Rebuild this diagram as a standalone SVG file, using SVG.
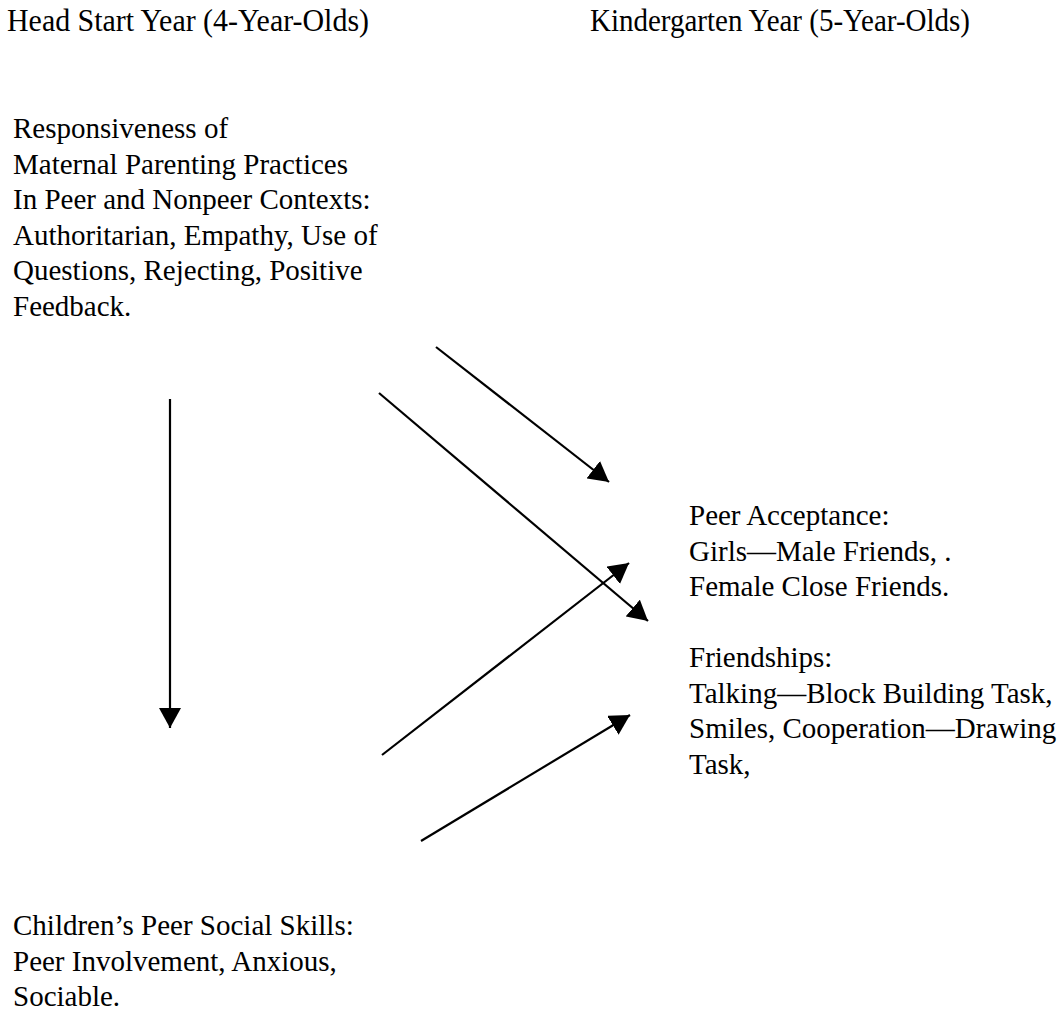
<svg xmlns="http://www.w3.org/2000/svg" width="1060" height="1028" viewBox="0 0 1060 1028">
  <style>
    text { font-family: "Liberation Serif", "Times New Roman", serif; fill: #000; }
    .hdr { font-size: 32px; }
    .body { font-size: 29px; }
    .conn line { stroke: #000; stroke-width: 2.2; fill: none; marker-end: url(#head); }
  </style>
  <defs>
    <marker id="head" viewBox="0 0 20 22" refX="20" refY="11" markerWidth="20" markerHeight="22" markerUnits="userSpaceOnUse" orient="auto">
      <path d="M0,0 L20,11 L0,22 z" fill="#000"/>
    </marker>
  </defs>
  <rect width="1060" height="1028" fill="#fff"/>

  <!-- column headings -->
  <g id="headings">
    <text class="hdr" x="7" y="31" textLength="362" lengthAdjust="spacingAndGlyphs">Head Start Year (4-Year-Olds)</text>
    <text class="hdr" x="590" y="31" textLength="380" lengthAdjust="spacingAndGlyphs">Kindergarten Year (5-Year-Olds)</text>
  </g>

  <!-- maternal parenting practices -->
  <g id="parenting">
    <text class="body" x="13" y="138">Responsiveness of</text>
    <text class="body" x="13" y="173.5">Maternal Parenting Practices</text>
    <text class="body" x="13" y="209">In Peer and Nonpeer Contexts:</text>
    <text class="body" x="13" y="244.5">Authoritarian, Empathy, Use of</text>
    <text class="body" x="13" y="280">Questions, Rejecting, Positive</text>
    <text class="body" x="13" y="315.5">Feedback.</text>
  </g>

  <!-- kindergarten outcomes -->
  <g id="outcomes">
    <text class="body" x="689" y="525">Peer Acceptance:</text>
    <text class="body" x="689" y="560.5">Girls—Male Friends, .</text>
    <text class="body" x="689" y="596">Female Close Friends.</text>
    <text class="body" x="689" y="667">Friendships:</text>
    <text class="body" x="689" y="702.5">Talking—Block Building Task,</text>
    <text class="body" x="689" y="738">Smiles, Cooperation—Drawing</text>
    <text class="body" x="689" y="773.5">Task,</text>
  </g>

  <!-- children's peer social skills -->
  <g id="skills">
    <text class="body" x="13" y="935">Children’s Peer Social Skills:</text>
    <text class="body" x="13" y="970.5">Peer Involvement, Anxious,</text>
    <text class="body" x="13" y="1006">Sociable.</text>
  </g>

  <!-- paths between constructs -->
  <g id="connectors" class="conn">
    <line x1="170" y1="399" x2="170" y2="728"/>
    <line x1="436" y1="347" x2="609" y2="482"/>
    <line x1="379" y1="393" x2="648" y2="621"/>
    <line x1="382" y1="755" x2="629" y2="563"/>
    <line x1="421" y1="841" x2="630" y2="715"/>
  </g>
</svg>
